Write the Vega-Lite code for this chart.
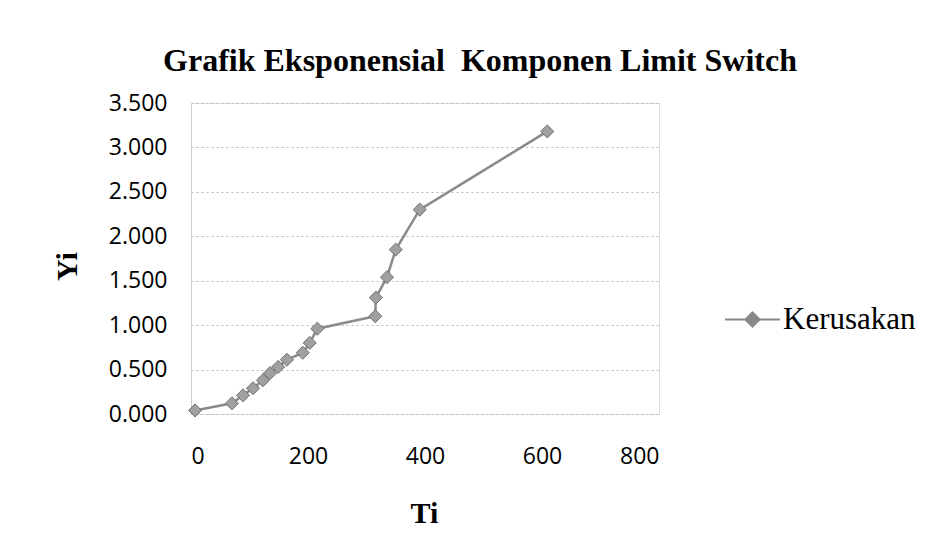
{
  "$schema": "https://vega.github.io/schema/vega-lite/v6.json",
  "width": 468,
  "height": 311,
  "autosize": {"type": "none"},
  "padding": {"left": 191, "top": 103, "right": 283, "bottom": 145},
  "background": "white",
  "title": {
    "text": "Grafik Eksponensial\u00a0 Komponen Limit Switch",
    "font": "Liberation Serif",
    "fontSize": 32,
    "fontWeight": "bold",
    "color": "#000000",
    "anchor": "middle",
    "dx": 55,
    "offset": 14
  },
  "data": {
    "values": [
      {"Ti": 7, "Yi": 0.04, "Seri": "Kerusakan"},
      {"Ti": 70, "Yi": 0.12, "Seri": "Kerusakan"},
      {"Ti": 89, "Yi": 0.21, "Seri": "Kerusakan"},
      {"Ti": 106, "Yi": 0.29, "Seri": "Kerusakan"},
      {"Ti": 123, "Yi": 0.38, "Seri": "Kerusakan"},
      {"Ti": 135, "Yi": 0.46, "Seri": "Kerusakan"},
      {"Ti": 149, "Yi": 0.53, "Seri": "Kerusakan"},
      {"Ti": 164, "Yi": 0.61, "Seri": "Kerusakan"},
      {"Ti": 191, "Yi": 0.69, "Seri": "Kerusakan"},
      {"Ti": 203, "Yi": 0.8, "Seri": "Kerusakan"},
      {"Ti": 216, "Yi": 0.96, "Seri": "Kerusakan"},
      {"Ti": 315, "Yi": 1.1, "Seri": "Kerusakan"},
      {"Ti": 316, "Yi": 1.31, "Seri": "Kerusakan"},
      {"Ti": 335, "Yi": 1.54, "Seri": "Kerusakan"},
      {"Ti": 350, "Yi": 1.85, "Seri": "Kerusakan"},
      {"Ti": 391, "Yi": 2.3, "Seri": "Kerusakan"},
      {"Ti": 609, "Yi": 3.18, "Seri": "Kerusakan"}
    ]
  },
  "mark": {
    "type": "line",
    "strokeWidth": 2.5,
    "point": {"shape": "diamond", "size": 170, "filled": true, "fill": "#a0a0a0", "stroke": "#6f6f6f", "strokeWidth": 1}
  },
  "encoding": {
    "x": {
      "field": "Ti",
      "type": "quantitative",
      "scale": {"domain": [0, 800], "nice": false},
      "axis": {
        "title": "Ti",
        "values": [0, 200, 400, 600, 800],
        "grid": false,
        "domain": false,
        "ticks": false,
        "labelFont": "Open Sans",
        "labelFontSize": 23,
        "labelColor": "#000000",
        "labelPadding": 31,
        "titleFont": "Liberation Serif",
        "titleFontSize": 30,
        "titleFontWeight": "bold",
        "titleColor": "#000000",
        "titleX": 233,
        "titleY": 99,
        "titleBaseline": "middle",
        "titleAlign": "center"
      }
    },
    "y": {
      "field": "Yi",
      "type": "quantitative",
      "scale": {"domain": [0, 3.5], "nice": false},
      "axis": {
        "title": "Yi",
        "values": [0, 0.5, 1, 1.5, 2, 2.5, 3, 3.5],
        "format": ".3f",
        "grid": true,
        "gridColor": "#b8b8b8",
        "gridDash": [2, 3],
        "gridWidth": 1,
        "domain": true,
        "domainColor": "#c0c0c0",
        "domainDash": [2, 2],
        "ticks": false,
        "labelFont": "Open Sans",
        "labelFontSize": 23,
        "labelColor": "#000000",
        "labelPadding": 24,
        "titleFont": "Liberation Serif",
        "titleFontSize": 30,
        "titleFontWeight": "bold",
        "titleColor": "#000000",
        "titleX": -124,
        "titleY": 163,
        "titleAngle": -90,
        "titleBaseline": "middle",
        "titleAlign": "center"
      }
    },
    "color": {
      "field": "Seri",
      "type": "nominal",
      "scale": {"range": ["#8a8a8a"]},
      "legend": {
        "title": null,
        "orient": "none",
        "legendX": 546,
        "legendY": 201,
        "padding": 0,
        "symbolType": "M -2.5 0 L 2.5 0 M 0 -0.65 L 0.65 0 L 0 0.65 L -0.65 0 Z",
        "symbolSize": 484,
        "symbolStrokeWidth": 2,
        "labelFont": "Liberation Serif",
        "labelFontSize": 31,
        "labelColor": "#000000",
        "labelOffset": 15,
        "encode": {
          "symbols": {"update": {"fill": {"value": "#a0a0a0"}, "stroke": {"value": "#8a8a8a"}, "strokeWidth": {"value": 2}}}
        }
      }
    }
  }
}
